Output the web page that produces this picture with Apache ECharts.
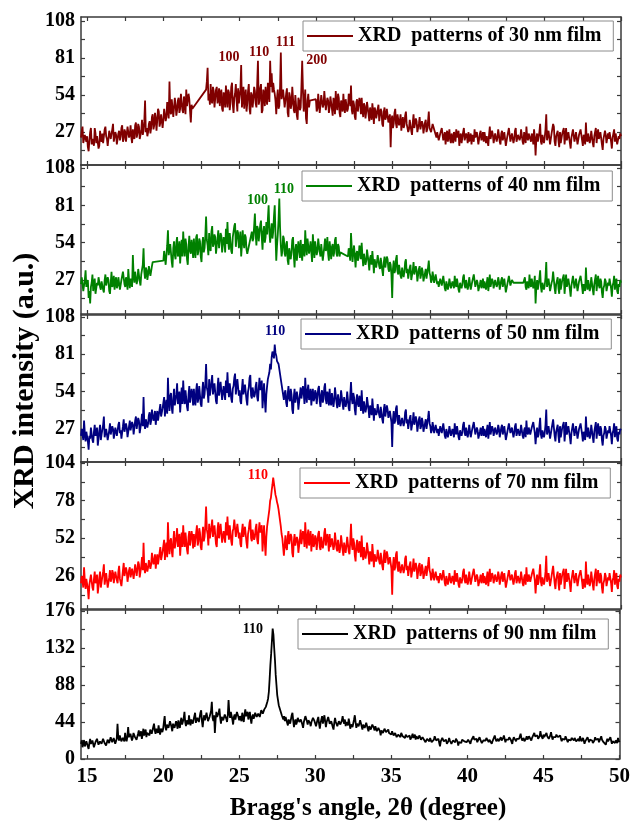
<!DOCTYPE html>
<html><head><meta charset="utf-8">
<script src="https://cdn.jsdelivr.net/npm/echarts@6/dist/echarts.min.js"></script>
<style>html,body{margin:0;padding:0;background:#fff}#c{width:633px;height:822px}</style>
</head><body><div id="c"></div>
<script>
// Readings every 0.05 degree. Row 0 starts at 14.6; row k>=1 starts at (14+k) degrees.
const int30 = [
[23,28,31,19,18,25,26,20],
[24,16,13,21,27,30,18,22,21,17,30,26,19,24,25,15,17,28,22,20],
[26,19,20,29,31,24,22,17,18,28,27,22,23,29,33,20,21,27,25,18],
[19,26,28,21,24,30,32,20,22,29,27,20,20,31,30,23,25,32,23,19],
[29,24,22,32,34,23,26,33,31,22,21,28,36,25,28,35,50,27,30,24],
[27,33,35,26,30,38,40,29,32,41,37,28,29,44,42,31,34,40,39,30],
[36,44,45,35,38,49,48,37,64,42,40,51,50,38,37,52,47,39,43,50],
[52,41,44,55,56,43,41,53,49,40,58,46,45,55,51,42,34,47,44,null],
[null,null,null,null,null,null,null,null,null,null,null,null,null,null,null,null,58,64,74,50],
[55,47,62,50,48,60,57,45,44,58,60,48,51,59,46,55,58,44,42,56],
[53,45,61,52,45,58,56,43,49,60,63,47,41,52,55,62,50,42,59,48],
[47,58,76,45,52,60,44,53,58,42,48,57,62,44,40,56,54,45,51,60],
[57,48,45,62,79,47,50,59,62,41,43,58,55,46,60,52,47,63,64,49],
[79,60,70,56,63,58,55,50,40,52,58,44,46,60,85,51,50,58,57,45],
[44,55,59,41,38,56,53,44,47,60,61,43,41,54,55,39,36,52,50,43],
[45,60,79,58,42,49,58,37,33,50,55,45,50,null,null,null,null,null,null,null],
[51,42,44,55,56,41,40,54,53,45,47,57,58,43,42,52,50,41,45,53],
[54,44,39,52,49,40,57,47,43,55,52,41,38,50,48,42,55,46,41,51],
[50,42,44,55,53,46,61,43,40,50,47,38,36,49,51,42,43,52,49,40],
[52,43,38,48,46,37,42,49,50,40,35,45,44,36,48,42,33,45,43,37],
[40,44,47,35,36,44,42,33,31,42,45,36,38,44,43,34,34,40,16,35],
[39,30,33,41,44,33,30,40,41,32,35,40,28,34,38,30,32,39,42,33],
[34,27,29,36,37,28,25,34,40,30,31,37,35,27,27,33,38,29,30,35],
[33,26,26,34,36,27,29,35,42,30,31,27,28,33,34,null,null,null,23,27],
[27,21,20,26,25,30,30,21,22,27,18,24,28,20,24,29,21,19,26,22],
[19,27,25,20,29,23,22,28,17,24,26,19,23,27,30,21,20,26,24,19],
[27,20,21,26,18,25,25,20,29,23,22,27,26,18,19,26,28,21,23,27],
[20,27,26,19,24,20,17,25,31,22,22,28,25,19,19,26,27,20,23,29],
[25,20,18,26,28,21,22,27,26,17,16,24,24,30,29,20,21,26,27,19],
[22,28,30,20,19,25,25,21,23,29,28,20,18,27,26,19,31,23,21,26],
[27,22,20,26,24,18,29,23,10,22,26,20,21,27,33,20,18,25,25,19],
[23,29,40,21,22,28,28,18,19,26,26,33,31,20,17,24,24,28,21,16],
[27,19,20,26,25,30,18,24,30,21,22,27,26,19,15,23,24,29,28,20],
[21,27,26,18,19,25,24,29,28,21,17,25,23,18,34,22,20,26,25,19],
[22,28,27,19,16,24,24,30,19,25,29,22,21,27,26,18,14,22,23,28],
[25,19,18,26,22,27,28,20,15,23,24,29,20,26,27,18,17,24,22,26],
[24]
];
const int40 = [
[24,29,30,19,18,27,34,22],
[21,27,14,19,10,22,25,31,19,24,28,17,16,25,23,29,30,22,20,26],
[26,20,18,27,31,23,22,29,27,19,17,25,33,22,24,30,20,26,29,21],
[23,29,30,20,19,27,27,33,33,24,22,29,26,20,35,27,21,28,28,22],
[45,30,25,33,32,24,27,35,36,26,23,31,30,38,50,33,28,36,34,27],
[31,37,38,30,29,37,40,null,null,null,null,null,null,null,null,null,null,null,null,null],
[41,48,49,38,37,52,63,45,44,53,52,40,36,50,55,45,42,54,58,44],
[47,55,39,49,56,44,62,51,44,57,53,42,38,51,59,48,46,56,51,43],
[57,48,43,58,60,45,48,57,55,44,40,53,58,47,50,59,73,56,52,45],
[61,50,48,62,66,51,53,60,58,46,45,57,63,50,51,61,59,47,47,58],
[56,47,64,53,69,55,49,61,60,48,46,58,57,66,68,51,52,63,61,50],
[55,62,44,52,63,54,50,60,58,49,46,null,null,null,null,null,62,55,57,66],
[75,60,52,66,64,55,56,67,70,58,49,62,66,54,58,69,60,71,81,62],
[54,62,68,57,62,73,81,60,41,52,60,70,86,65,52,44,48,59,57,46],
[44,53,55,41,38,50,51,42,47,56,58,45,36,49,53,41,42,55,49,43],
[56,47,41,53,52,44,63,52,45,57,58,46,50,55,47,40,60,51,43,55],
[54,45,48,57,58,47,44,53,52,41,40,51,57,48,50,58,46,41,55,49],
[42,51,53,44,47,56,58,46,44,53,51,44,47,null,null,null,null,null,null,null],
[null,null,44,50,49,41,61,50,40,47,52,44,36,46,48,41,43,52,50,42],
[54,44,37,46,46,38,41,49,50,40,34,43,45,38,48,41,32,42,43,36],
[40,45,46,37,35,43,43,34,30,40,44,36,37,44,42,35,33,40,38,31],
[14,35,41,32,34,42,45,33,31,38,39,30,28,36,37,29,33,40,42,32],
[35,28,28,36,38,27,26,34,40,31,30,37,34,26,27,35,37,28,31,36],
[33,26,25,32,35,28,29,36,41,32,30,25,27,33,32,25,24,31,30,24],
[26,22,21,28,29,23,24,30,31,21,19,26,27,20,23,28,28,21,20,26],
[25,21,30,24,22,28,27,20,18,25,26,21,24,29,31,23,21,27,26,20],
[23,29,28,20,19,26,26,31,30,22,22,27,25,19,18,24,27,21,24,28],
[21,26,27,20,25,29,19,24,31,22,23,28,26,21,20,27,28,22,24,29],
[26,20,19,27,29,22,23,28,27,18,17,24,25,30,30,23,22,27,26,25],
[null,null,null,null,null,null,null,null,null,null,null,null,25,27,29,22,20,26,27,21],
[31,24,22,28,28,21,24,30,10,22,27,20,21,28,34,22,18,25,26,20],
[23,29,40,22,22,28,29,19,19,25,27,33,32,21,17,24,25,29,21,17],
[28,20,20,27,26,31,17,24,31,22,22,28,27,20,15,23,24,30,29,21],
[21,28,27,19,19,26,25,30,29,22,17,24,23,19,36,24,20,27,26,19],
[22,29,28,20,16,24,25,31,19,25,30,23,21,28,26,18,14,21,23,28],
[26,19,18,25,23,28,29,21,15,23,25,30,20,26,28,19,17,24,22,27],
[25]
];
const int50 = [
[22,27,28,19,33,24,18,25],
[25,18,12,22,20,28,27,19,17,25,30,22,21,28,15,20,26,30,19,23],
[24,30,36,21,20,27,28,19,18,26,31,23,23,29,27,20,19,28,29,22],
[22,30,32,24,26,20,19,29,34,25,25,31,28,21,21,29,33,26,27,32],
[30,23,24,33,36,27,28,35,33,24,23,32,38,29,50,31,27,34,35,28],
[31,37,39,30,33,41,42,33,35,40,30,36,40,33,34,41,45,36,37,42],
[43,50,36,44,48,38,64,47,40,51,53,42,38,49,56,44,44,52,60,45],
[46,54,39,48,57,45,62,50,45,55,54,43,40,52,58,46,47,56,52,44],
[56,47,44,55,60,46,49,58,57,45,43,54,61,49,52,60,74,57,54,46],
[63,51,50,61,66,52,53,60,59,47,45,57,64,51,52,61,60,48,48,58],
[57,48,62,53,68,56,50,60,61,49,46,56,58,64,67,52,53,63,62,51],
[55,47,45,56,63,52,51,59,59,48,44,54,57,64,66,51,49,57,58,50],
[52,58,61,50,47,56,64,55,55,62,42,51,60,48,39,52,58,63,62,68],
[74,70,79,83,84,78,88,82,80,76,76,74,73,null,null,null,null,null,48,53],
[55,46,43,52,58,49,47,56,52,41,38,50,56,46,45,54,50,41,42,52],
[57,49,48,58,53,45,64,52,46,55,59,48,50,56,44,52,56,47,49,55],
[53,45,46,56,58,47,43,52,55,46,49,57,60,48,45,54,51,44,56,47],
[44,53,54,43,48,57,58,46,42,52,52,43,47,55,55,45,41,50,50,43],
[46,54,53,42,40,51,61,49,45,53,50,41,37,48,52,45,43,51,48,40],
[55,44,38,47,47,39,42,50,51,41,35,44,44,37,49,42,33,42,43,37],
[39,45,46,37,35,43,42,34,31,41,45,36,37,44,41,35,34,40,39,32],
[14,34,40,31,33,42,44,33,30,37,38,29,28,35,36,29,32,39,41,31],
[34,27,27,35,37,26,25,33,39,30,30,36,33,25,26,34,36,27,29,35],
[32,25,25,31,34,27,28,35,40,31,29,24,26,32,31,24,23,30,30,24],
[27,22,21,29,30,24,25,31,32,22,20,27,28,21,24,29,29,22,22,27],
[26,21,31,25,23,29,28,21,19,26,27,22,25,30,32,24,22,28,27,21],
[24,30,29,21,20,27,27,32,31,23,23,28,26,20,19,25,28,22,25,29],
[22,27,28,21,26,30,20,25,32,23,24,29,27,22,21,28,29,23,25,30],
[27,21,20,28,30,23,24,29,28,19,18,25,26,31,31,24,23,28,27,21],
[24,29,31,22,21,27,27,22,25,30,30,22,20,26,28,21,33,25,23,28],
[29,23,22,28,27,32,31,24,16,23,28,21,23,29,35,23,20,26,27,21],
[24,30,41,23,23,29,30,20,20,27,28,34,33,22,18,25,26,30,22,17],
[29,21,21,28,27,32,18,25,32,23,23,29,28,21,16,24,25,31,30,22],
[22,29,28,20,20,27,26,31,30,23,18,25,24,19,36,25,21,28,27,20],
[23,30,29,21,17,25,26,32,20,26,31,24,22,29,27,19,15,22,24,29],
[27,20,19,26,24,29,30,22,16,24,26,31,21,27,29,20,18,25,23,27],
[26]
];
const int70 = [
[21,26,27,18,32,23,17,24],
[24,17,10,20,19,27,28,18,16,24,29,21,22,27,14,19,25,29,18,22],
[23,29,34,20,21,28,27,18,17,25,30,22,24,30,28,21,20,29,30,23],
[21,29,33,24,25,19,20,30,35,26,26,32,29,22,22,30,32,25,26,31],
[31,24,25,34,35,26,27,36,34,25,24,33,39,30,49,32,28,35,36,29],
[32,37,38,31,34,42,43,34,36,41,31,37,41,34,35,42,46,37,38,43],
[44,51,37,45,49,39,63,48,41,50,52,43,39,50,57,45,45,53,59,46],
[47,55,40,49,56,46,61,51,46,56,55,44,41,53,57,47,48,57,53,45],
[55,46,45,56,61,47,50,59,56,46,44,53,60,50,53,61,74,58,55,47],
[62,52,51,60,65,53,54,61,60,48,46,58,63,52,53,62,61,49,49,57],
[58,49,63,54,67,57,51,61,60,50,47,57,59,65,66,53,54,62,61,52],
[56,48,46,57,62,53,52,60,60,49,45,55,58,63,65,52,50,58,59,51],
[53,59,62,51,48,57,63,56,56,61,43,52,61,49,40,53,60,64,65,72],
[78,80,85,89,94,90,86,82,80,77,75,72,68,64,60,55,52,46,40,47],
[54,46,44,53,57,48,48,55,53,42,39,50,55,47,46,53,51,42,43,52],
[58,48,47,57,54,46,63,53,45,54,58,47,51,57,43,51,55,46,48,54],
[52,44,45,55,57,46,44,53,54,45,48,56,59,47,46,55,50,43,55,46],
[45,52,53,44,47,56,57,45,43,51,51,42,46,54,54,44,40,49,49,42],
[47,53,52,43,41,50,62,48,44,52,49,40,36,47,51,44,42,50,47,39],
[54,43,37,46,46,38,41,49,50,40,34,43,43,36,48,41,32,41,42,36],
[38,44,45,36,34,42,41,33,30,40,44,35,36,43,40,34,33,39,38,31],
[13,33,39,30,32,41,43,32,29,36,37,28,27,34,35,28,31,38,40,30],
[33,26,26,34,36,25,24,32,38,29,29,35,32,24,25,33,35,26,28,34],
[31,24,24,30,33,26,27,34,39,30,28,23,25,31,30,23,22,29,29,23],
[26,21,20,28,29,23,24,30,31,21,19,26,27,20,23,28,28,21,21,26],
[25,20,30,24,22,28,27,20,18,25,26,21,24,29,31,23,21,27,26,20],
[23,29,28,20,19,26,26,31,30,22,22,27,25,19,18,24,27,21,24,28],
[21,26,27,20,25,29,19,24,31,22,23,28,26,21,20,27,28,22,24,29],
[26,20,19,27,29,22,23,28,27,18,17,24,25,30,30,23,22,27,26,20],
[23,28,30,21,20,26,26,21,24,29,29,21,19,25,27,20,32,24,22,27],
[28,22,21,27,26,31,30,23,14,22,27,20,22,28,34,22,19,25,26,20],
[23,29,40,22,22,28,29,19,19,26,27,33,32,21,17,24,25,29,21,16],
[28,20,20,27,26,31,17,24,31,22,22,28,27,20,15,23,24,30,29,21],
[21,28,27,19,19,26,25,30,29,22,17,24,23,18,36,24,20,27,26,19],
[22,29,28,20,16,24,25,31,19,25,30,23,21,28,26,18,14,21,23,28],
[26,19,18,25,23,28,29,21,15,23,25,30,20,26,28,19,17,24,22,27],
[25]
];
const int90 = [
[18,22,14,19,22,15,16,21],
[20,15,12,19,24,18,17,22,21,14,13,20,19,24,25,17,15,21,22,18],
[18,24,26,19,20,16,15,23,24,19,21,26,28,20,19,25,23,18,17,24],
[42,26,22,28,29,21,19,25,26,21,31,24,21,27,38,26,24,30,28,22],
[25,31,32,26,27,23,22,30,34,27,28,33,24,29,36,28,30,35,26,31],
[33,29,28,35,37,30,31,38,42,34,30,36,35,31,40,33,29,36,38,32],
[36,44,51,38,34,41,42,37,39,45,47,38,33,42,44,37,38,45,41,36],
[46,40,37,45,49,41,42,48,56,44,39,46,45,41,52,44,40,47,48,42],
[44,51,55,43,41,49,50,44,46,55,58,45,38,47,52,46,47,55,54,45],
[43,50,50,57,68,49,45,52,31,47,56,50,49,55,60,49,42,50,51,46],
[47,53,55,48,44,52,70,55,49,56,57,47,41,50,53,47,48,56,58,50],
[46,51,52,45,55,49,44,53,59,51,50,56,47,52,56,48,42,50,53,48],
[51,55,57,50,48,54,55,50,52,58,60,54,54,59,58,62,62,68,72,80],
[95,112,125,140,155,148,132,118,100,88,76,70,64,61,58,55,52,50,47,51],
[45,50,51,43,40,47,48,42,43,52,55,46,38,44,47,41,44,49,50,44],
[42,47,49,41,37,44,46,51,53,45,41,46,48,43,39,44,45,49,51,45],
[44,39,40,47,50,42,36,43,47,51,42,47,52,45,38,44,45,50,48,42],
[41,45,46,38,35,43,49,44,43,39,38,45,47,41,40,46,51,45,42,47],
[39,44,45,40,48,43,36,41,43,38,40,47,52,44,37,42,44,39,41,46],
[46,39,35,41,42,37,38,43,44,36,33,39,40,35,36,41,42,37,34,39],
[37,33,32,37,39,33,28,34,36,31,31,36,38,32,30,34,35,31,33,30],
[29,33,35,28,27,31,32,26,24,29,30,27,26,31,33,27,28,25,25,29],
[31,26,24,28,28,23,22,27,30,25,26,29,23,27,29,24,25,28,27,23],
[22,26,28,23,24,20,19,24,26,22,21,25,25,20,18,22,23,27,27,22],
[20,23,24,19,15,21,22,25,26,21,19,22,23,18,17,21,25,22,21,18],
[18,22,24,20,20,24,26,21,16,20,22,18,19,23,25,21,21,19,23,20],
[20,23,25,21,18,22,23,20,27,23,21,24,24,20,19,22,26,23,22,19],
[19,22,24,21,22,25,27,23,20,23,25,21,18,21,23,20,28,24,21,19],
[24,21,19,23,26,22,22,25,28,24,20,23,25,22,23,26,27,23,21,18],
[23,26,28,24,21,24,26,22,24,27,30,25,22,24,25,21,20,24,27,23],
[24,27,29,25,22,25,27,24,31,27,25,28,28,24,23,27,33,28,26,24],
[29,26,24,28,31,27,27,24,25,28,32,27,23,26,28,25,26,29,30,26],
[24,26,28,24,21,24,26,22,23,27,29,25,20,23,25,22,22,25,27,24],
[22,25,26,21,19,22,24,21,27,24,21,23,25,22,18,21,23,20,26,23],
[20,23,25,21,22,19,18,22,26,23,21,24,24,20,19,22,27,23,22,20],
[21,18,17,21,24,21,20,23,26,22,18,21,23,20,19,22,22,19,25,22],
[20]
];
const seriesNames = ['XRD  patterns of 30 nm film','XRD  patterns of 40 nm film','XRD  patterns of 50 nm film','XRD  patterns of 70 nm film','XRD  patterns of 90 nm film'];
const xTickLabels = [15,20,25,30,35,40,45,50];
const yTickLabels = [[27,54,81,108],[27,54,81,108],[27,54,81,108],[26,52,78,104],[0,44,88,132,176]];
const peakLabels = [['100','110','111','200'],['100','110'],['110'],['110'],['110']];

// layout / styling
const colors = ['#800000','#008000','#000080','#ff0000','#000000'];
const yRanges = [[3,111],[2.4,110.2],[3.1,109.4],[3.2,104.7],[0,177.2]];
const gridBoxes = [[17,148],[165,149],[315,147],[462,147],[610,149]];
const legendBoxes = [[303,21],[302,171],[301,319],[300,468],[298,619]];
const peakLabelPos = [[[24.31,81.7],[26.27,85],[28.0,92.7],[30.05,79.2]],[[26.17,84.9],[27.9,92.8]],[[27.32,97.2]],[[26.2,95.4]],[[25.9,154.6]]];
const XMIN = 14.6, XMAX = 50, STEP = 0.05;
const FONT = 'Liberation Serif';
const allRows = [int30,int40,int50,int70,int90];

function toPairs(rows){
  const out=[];
  rows.forEach((row,k)=>{
    const start = k===0 ? XMIN : 14+k;
    row.forEach((v,j)=>{ if(v!==null) out.push([+(start+STEP*j).toFixed(2), v]); });
  });
  return out;
}
const xMinor=[]; for(let v=15; v<=50.001; v+=2.5) xMinor.push(+v.toFixed(1));
function yMinor(labels,min,max){
  const step=labels[1]-labels[0]; const out=[];
  for(let v=labels[0]; v>=min; v-=step/2) out.unshift(v);
  for(let v=labels[0]+step/2; v<=max; v+=step/2) out.push(v);
  return Array.from(new Set(out));
}
const axisColor='#3a3a3a';
const grid=[],xAxis=[],yAxis=[],series=[],legend=[];
for(let i=0;i<5;i++){
  grid.push({left:81,right:12,top:gridBoxes[i][0],height:gridBoxes[i][1]});
  const lineStyle={color:axisColor,width:1.5};
  const tick={show:true,inside:true,length:4,customValues:xMinor,lineStyle:{color:axisColor,width:1.2}};
  xAxis.push({type:'value',gridIndex:i,min:XMIN,max:XMAX,position:'bottom',
    axisLine:{show:true,onZero:false,lineStyle},axisTick:tick,splitLine:{show:false},
    axisLabel:{show:i===4,customValues:xTickLabels,margin:7,color:'#000',fontFamily:FONT,fontWeight:'bold',fontSize:21}});
  xAxis.push({type:'value',gridIndex:i,min:XMIN,max:XMAX,position:'top',
    axisLine:{show:true,onZero:false,lineStyle},axisTick:tick,splitLine:{show:false},axisLabel:{show:false}});
  const [mn,mx]=yRanges[i];
  const ytick={show:true,inside:true,length:4,customValues:yMinor(yTickLabels[i],mn,mx),lineStyle:{color:axisColor,width:1.2}};
  yAxis.push({type:'value',gridIndex:i,min:mn,max:mx,position:'left',
    axisLine:{show:true,onZero:false,lineStyle},axisTick:ytick,splitLine:{show:false},
    axisLabel:{show:true,customValues:yTickLabels[i],margin:6,color:'#000',fontFamily:FONT,fontWeight:'bold',fontSize:20}});
  yAxis.push({type:'value',gridIndex:i,min:mn,max:mx,position:'right',
    axisLine:{show:true,onZero:false,lineStyle},axisTick:ytick,splitLine:{show:false},axisLabel:{show:false}});
  series.push({type:'line',name:seriesNames[i],xAxisIndex:2*i,yAxisIndex:2*i,data:toPairs(allRows[i]),
    symbol:'none',showSymbol:false,lineStyle:{color:colors[i],width:1.8},itemStyle:{color:colors[i]},
    markPoint:{symbol:'circle',symbolSize:1,silent:true,itemStyle:{color:'rgba(0,0,0,0)'},
      label:{show:true,position:'inside',formatter:p=>p.name,color:colors[i],fontFamily:FONT,fontWeight:'bold',fontSize:14},
      data:peakLabels[i].map((t,j)=>({name:t,coord:peakLabelPos[i][j]}))}});
  legend.push({data:[{name:seriesNames[i],icon:'rect'}],left:legendBoxes[i][0],top:legendBoxes[i][1],selectedMode:false,
    itemWidth:46,itemHeight:2,padding:[5,12,5,4],borderColor:'#8c8c8c',borderWidth:1,borderRadius:0,backgroundColor:'#fff',
    textStyle:{color:'#000',fontFamily:FONT,fontWeight:'bold',fontSize:20}});
}
const chart=echarts.init(document.getElementById('c'));
chart.setOption({animation:false,backgroundColor:'#fff',grid,xAxis,yAxis,series,legend,
  graphic:[
    {type:'text',x:25,y:381,rotation:Math.PI/2,style:{text:'XRD intensity (a.u.)',fontFamily:FONT,fontWeight:'bold',fontSize:30,fill:'#000',align:'center',verticalAlign:'middle',textAlign:'center',textVerticalAlign:'middle'}},
    {type:'text',x:368,y:809,style:{text:"Bragg's angle, 2θ (degree)",fontFamily:FONT,fontWeight:'bold',fontSize:25,fill:'#000',align:'center',verticalAlign:'middle',textAlign:'center',textVerticalAlign:'middle'}}
  ]});
</script></body></html>
